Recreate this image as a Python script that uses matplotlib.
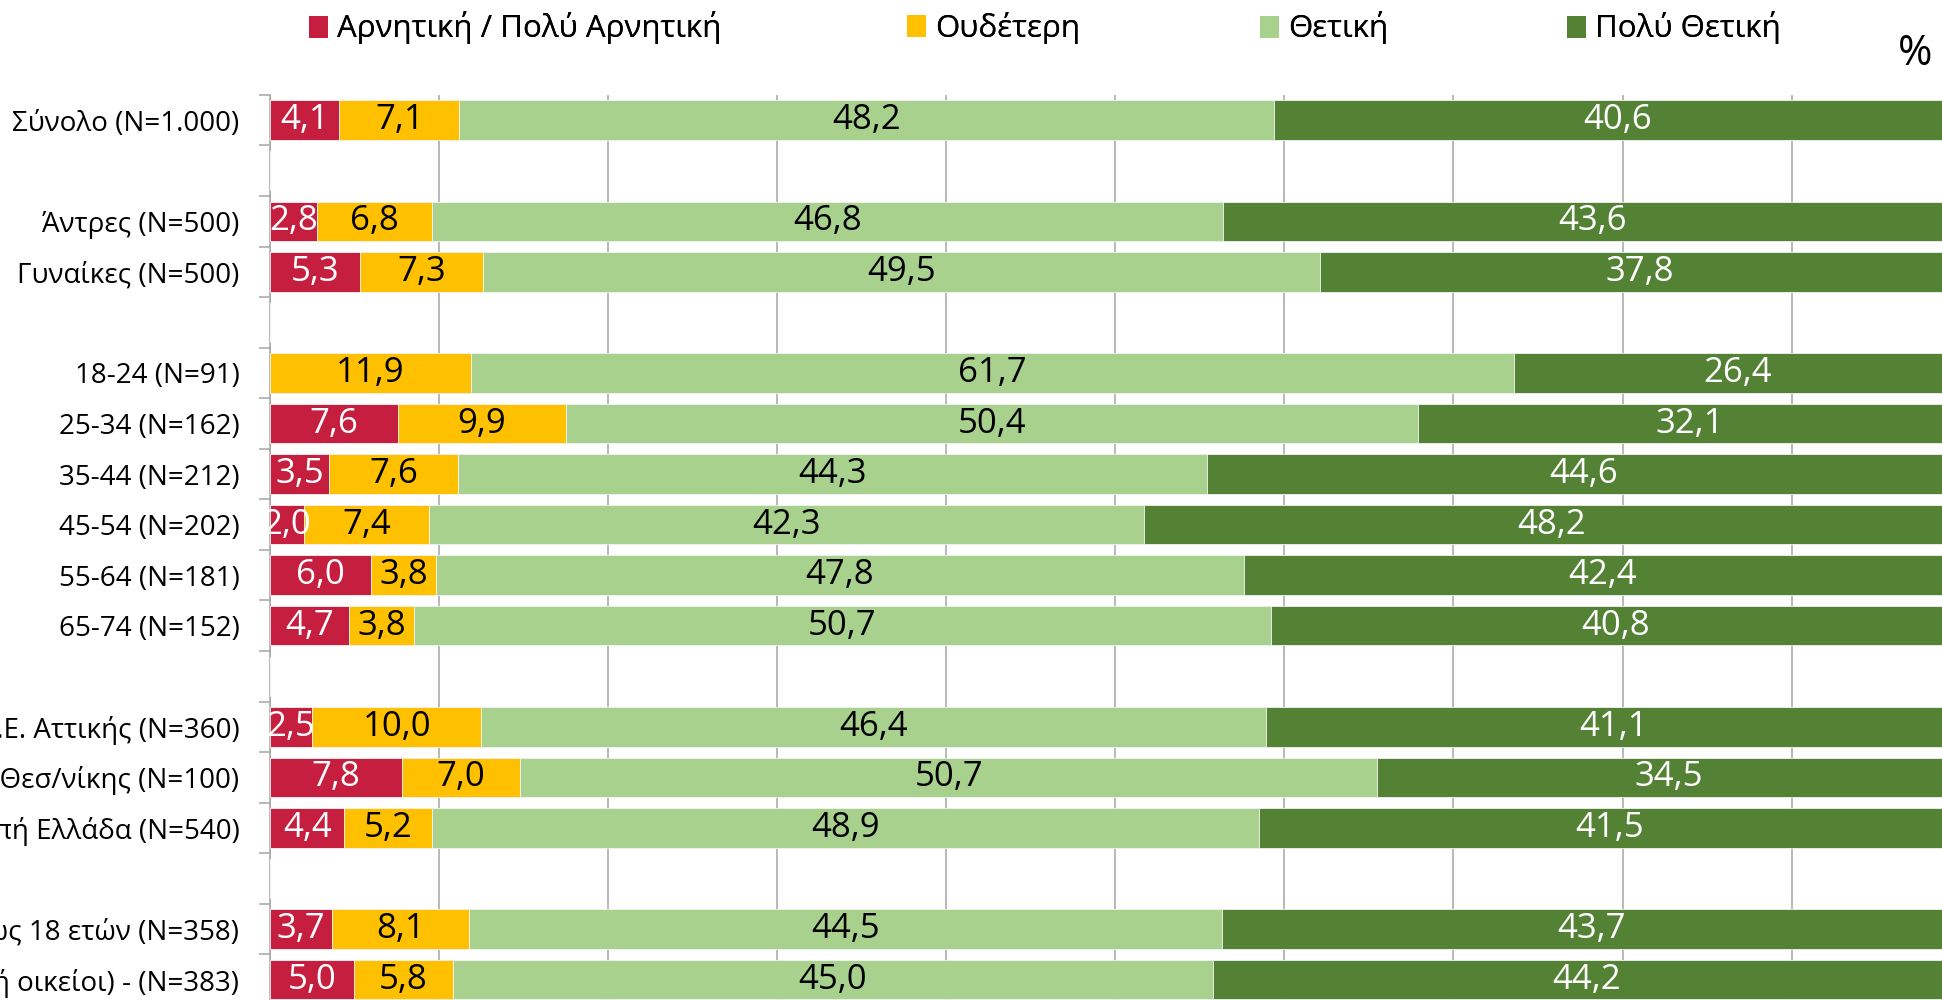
import numpy as np
import matplotlib
matplotlib.use("Agg")
import matplotlib.pyplot as plt
from matplotlib.patches import Patch
from matplotlib.ticker import FixedLocator, MultipleLocator

# ---------------- data ----------------
categories = [
    "Σύνολο (N=1.000)", "",
    "Άντρες (N=500)", "Γυναίκες (N=500)", "",
    "18-24 (N=91)", "25-34 (N=162)", "35-44 (N=212)", "45-54 (N=202)",
    "55-64 (N=181)", "65-74 (N=152)", "",
    "Π.Ε. Αττικής (N=360)", "Ν. Θεσ/νίκης (N=100)", "Λοιπή Ελλάδα (N=540)", "",
    "Νοικοκυριά με παιδιά έως 18 ετών (N=358)",
    "Νοικοκυριά με ηλικιωμένους (γονείς ή οικείοι) - (N=383)",
]
nan = np.nan
negative = [4.1, nan, 2.8, 5.3, nan, 0.0, 7.6, 3.5, 2.0, 6.0, 4.7, nan, 2.5, 7.8, 4.4, nan, 3.7, 5.0]
neutral = [7.1, nan, 6.8, 7.3, nan, 11.9, 9.9, 7.6, 7.4, 3.8, 3.8, nan, 10.0, 7.0, 5.2, nan, 8.1, 5.8]
positive = [48.2, nan, 46.8, 49.5, nan, 61.7, 50.4, 44.3, 42.3, 47.8, 50.7, nan, 46.4, 50.7, 48.9, nan, 44.5, 45.0]
very_positive = [40.6, nan, 43.6, 37.8, nan, 26.4, 32.1, 44.6, 48.2, 42.4, 40.8, nan, 41.1, 34.5, 41.5, nan, 43.7, 44.2]
series_names = ["Αρνητική / Πολύ Αρνητική", "Ουδέτερη", "Θετική", "Πολύ Θετική"]

# ---------------- style ----------------
colors = ["#C51E3F", "#FFC000", "#A9D18E", "#548235"]
label_colors = ["white", "black", "black", "white"]
FONT = ["Open Sans", "DejaVu Sans"]

fig = plt.figure(figsize=(19.42, 10.0), dpi=100)
ax = fig.add_axes([0.139, -0.0049, 0.8706, 0.91])

series = [negative, neutral, positive, very_positive]
y = np.arange(len(categories))
left = np.zeros(len(categories))
for vals, col, lcol in zip(series, colors, label_colors):
    v = np.array(vals, dtype=float)
    cont = ax.barh(y, np.nan_to_num(v), left=left, height=0.78, color=col,
                   edgecolor="#F2F2F2", linewidth=0.6, zorder=3)
    labels = [("" if (np.isnan(x) or x == 0) else f"{x:.1f}".replace(".", ",")) for x in v]
    ax.bar_label(cont, labels=labels, label_type="center", color=lcol,
                 fontsize=25, family=FONT, zorder=4)
    left = left + np.nan_to_num(v)

ax.set_xlim(0, 100)
ax.set_ylim(len(categories) - 0.5, -0.5)

ax.xaxis.set_major_locator(MultipleLocator(10))
ax.grid(axis="x", color="#A6A6A6", linewidth=1.1, zorder=0)
ax.tick_params(axis="x", which="both", length=0, labelbottom=False)

ax.yaxis.set_major_locator(FixedLocator(y))
ax.set_yticklabels(categories, family=FONT, fontsize=20)
ax.yaxis.set_minor_locator(FixedLocator(np.arange(-0.5, len(categories), 1.0)))
ax.tick_params(axis="y", which="major", length=0, pad=22)
ax.tick_params(axis="y", which="minor", length=8, width=1.1, color="#A6A6A6")

for s in ["top", "right", "bottom"]:
    ax.spines[s].set_visible(False)
ax.spines["left"].set_color("#A6A6A6")
ax.spines["left"].set_linewidth(1.1)

# legend: one entry each, placed as in the reference
leg_x = [0.159, 0.467, 0.649, 0.807]
for name, col, lx in zip(series_names, colors, leg_x):
    lg = fig.legend(handles=[Patch(facecolor=col, edgecolor="none")], labels=[name],
                    loc="center left", bbox_to_anchor=(lx, 0.972), frameon=False,
                    handlelength=0.6, handleheight=0.7, handletextpad=0.3,
                    borderaxespad=0, borderpad=0,
                    prop={"family": FONT, "size": 22.5})
    fig.add_artist(lg)

fig.text(0.986, 0.946, "%", ha="center", va="center", fontsize=30, family=FONT)

fig.savefig("out.png", dpi=100)
